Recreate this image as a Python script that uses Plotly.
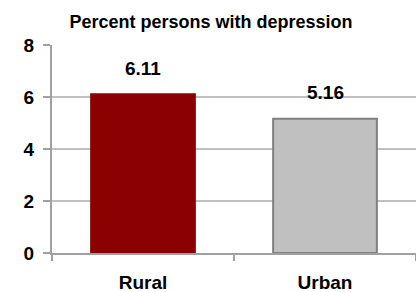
import plotly.graph_objects as go

categories = ["Rural", "Urban"]
values = [6.11, 5.16]
value_labels = ["6.11", "5.16"]
bar_colors = ["#8B0000", "#C0C0C0"]
line_colors = ["#8B0000", "#808080"]
y_ticks = [0, 2, 4, 6, 8]

FONT = "Liberation Sans, Arial"

fig = go.Figure()
fig.add_trace(go.Bar(
    x=categories, y=values,
    marker=dict(color=bar_colors, line=dict(color=line_colors, width=2)),
    width=0.57,
    hoverinfo="skip",
))
for c, v, t in zip(categories, values, value_labels):
    fig.add_annotation(x=c, y=v, text=t, showarrow=False, yshift=26,
                       font=dict(family=FONT, size=19, color="#000", weight="bold"))

fig.update_layout(
    width=416, height=292,
    margin=dict(l=52, r=0, t=45, b=39, autoexpand=False),
    paper_bgcolor="white", plot_bgcolor="white",
    showlegend=False,
    title=dict(text="Percent persons with depression", x=(65 + 357) / 2 / 416, xanchor="center",
               y=1 - 21.5 / 292, yanchor="middle", automargin=False,
               font=dict(family=FONT, size=18, color="#000", weight="bold")),
    font=dict(family=FONT, color="#000"),
)
fig.update_yaxes(
    range=[0, 8], tickvals=y_ticks, showgrid=True, gridcolor="#C0C0C0", gridwidth=2,
    showline=True, linecolor="#A0A0A0", linewidth=2, ticks="outside", ticklen=7,
    tickcolor="#A0A0A0", tickwidth=2, zeroline=False, automargin=False,
    tickfont=dict(size=19, family=FONT, color="#000", weight="bold"),
    ticklabelstandoff=5,
)
fig.update_xaxes(
    showline=True, linecolor="#A0A0A0", linewidth=2, ticks="outside", ticklen=6,
    tickcolor="#A0A0A0", tickwidth=2, tickson="boundaries", automargin=False,
    tickfont=dict(size=19, family=FONT, color="#000", weight="bold"),
    ticklabelstandoff=11,
)
fig.write_html("out.html", config={"displayModeBar": False},
               post_script="document.body.style.margin='0';document.body.style.overflow='hidden';")
